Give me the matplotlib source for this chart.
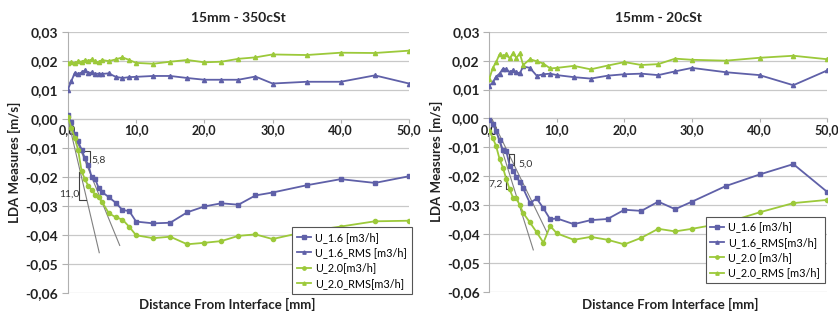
import numpy as np
import matplotlib
matplotlib.use("Agg")
import matplotlib.pyplot as plt
from matplotlib.ticker import FuncFormatter

plt.rcParams['font.family'] = ['Lato', 'DejaVu Sans']

BLUE = '#5f60a8'
GREEN = '#9cc93a'

# common distance grid [mm]
x = [0, 0.5, 1, 1.5, 2, 2.5, 3, 3.5, 4, 4.5, 5, 6, 7, 8, 9, 10,
     12.5, 15, 17.5, 20, 22.5, 25, 27.5, 30, 35, 40, 45, 50]

# 15mm - 350cSt
l_u16 = [0.0015, -0.0012, -0.005, -0.0077, -0.0105, -0.0135, -0.0158, -0.0201, -0.0206, -0.0237,
         -0.0251, -0.0269, -0.0288, -0.0313, -0.0317, -0.0353, -0.0359, -0.0357, -0.0321, -0.0301,
         -0.029, -0.0295, -0.0263, -0.0253, -0.0228, -0.0207, -0.022, -0.0197]
l_u16_rms = [0.0101, 0.013, 0.0158, 0.0155, 0.016, 0.0167, 0.0158, 0.016, 0.0155, 0.0156,
             0.0155, 0.0157, 0.0145, 0.0141, 0.0144, 0.0145, 0.0148, 0.0148, 0.0141, 0.0135,
             0.0135, 0.0135, 0.0146, 0.0122, 0.0128, 0.0128, 0.015, 0.0122]
l_u20 = [0.0007, -0.003, -0.0065, -0.0106, -0.0178, -0.0208, -0.023, -0.0245, -0.026, -0.027,
         -0.0285, -0.0324, -0.0338, -0.0346, -0.0371, -0.040, -0.041, -0.0405, -0.0431, -0.0426,
         -0.042, -0.0402, -0.0397, -0.0413, -0.0387, -0.037, -0.0352, -0.035]
l_u20_rms = [0.0192, 0.0195, 0.0193, 0.0198, 0.0197, 0.0202, 0.0200, 0.0205, 0.0198, 0.0195,
             0.0203, 0.0199, 0.0205, 0.0212, 0.0203, 0.0193, 0.019, 0.0197, 0.0203, 0.0195,
             0.0197, 0.0207, 0.0212, 0.0222, 0.022, 0.0228, 0.0227, 0.0235]

# 15mm - 20cSt
r_u16 = [-0.0004, -0.002, -0.0044, -0.0075, -0.011, -0.0114, -0.0163, -0.0183, -0.0201, -0.0221,
         -0.0242, -0.0293, -0.0277, -0.0311, -0.0349, -0.0346, -0.0366, -0.0352, -0.0348, -0.0316,
         -0.032, -0.0288, -0.0314, -0.0288, -0.0234, -0.0194, -0.0158, -0.0254]
r_u16_rms = [0.0113, 0.0125, 0.0145, 0.0155, 0.0172, 0.017, 0.016, 0.0167, 0.016, 0.0156,
             0.018, 0.0175, 0.0148, 0.0153, 0.0155, 0.015, 0.0143, 0.0138, 0.0148, 0.0153,
             0.0155, 0.015, 0.0163, 0.0175, 0.016, 0.015, 0.0115, 0.0166]
r_u20 = [-0.0044, -0.0067, -0.0096, -0.014, -0.017, -0.021, -0.0245, -0.0275, -0.0277, -0.030,
         -0.0327, -0.036, -0.0394, -0.043, -0.0372, -0.0398, -0.042, -0.041, -0.042, -0.0436,
         -0.0413, -0.0382, -0.0391, -0.0382, -0.0361, -0.0325, -0.0293, -0.0282]
r_u20_rms = [0.0138, 0.0175, 0.0195, 0.0222, 0.0215, 0.0222, 0.0208, 0.0225, 0.021, 0.0225,
             0.0185, 0.0205, 0.0198, 0.019, 0.0173, 0.0175, 0.0182, 0.017, 0.0183, 0.0195,
             0.0185, 0.0188, 0.0207, 0.0203, 0.02, 0.021, 0.0217, 0.0205]

titles = ['15mm - 350cSt', '15mm - 20cSt']
labels_l = ['U_1.6 [m3/h]', 'U_1.6_RMS [m3/h]', 'U_2.0[m3/h]', 'U_2.0_RMS[m3/h]']
labels_r = ['U_1.6 [m3/h]', 'U_1.6_RMS[m3/h]', 'U_2.0 [m3/h]', 'U_2.0_RMS [m3/h]']

# tangent lines and slope marks (x list, y list)
l_tang = [([0, 4.6], [0, -0.046]), ([0, 7.6], [0, -0.0435])]
l_marks = [([2.1, 3.2, 3.2], [-0.0109, -0.0109, -0.0147]),
           ([1.7, 1.7, 2.7], [-0.0181, -0.028, -0.028])]
l_text = [(3.4, -0.0143, '5,8'), (-1.3, -0.0258, '11,0')]
r_tang = [([0.4, 6.5], [0, -0.0455]), ([0.3, 8.6], [0, -0.0398])]
r_marks = [([2.95, 3.7, 3.7, 2.95, 2.95], [-0.0123, -0.0123, -0.0161, -0.0161, -0.0123]),
           ([2.5, 2.5, 3.1], [-0.0198, -0.0244, -0.0244])]
r_text = [(4.3, -0.0158, '5,0'), (-0.2, -0.0226, '7,2')]

fig = plt.figure(figsize=(8.38, 3.21), dpi=100)
ax1 = fig.add_axes([0.081, 0.086, 0.407, 0.815])
ax2 = fig.add_axes([0.584, 0.091, 0.403, 0.810])

comma = FuncFormatter(lambda v, p: ('%.2f' % v).replace('.', ','))
comma1 = FuncFormatter(lambda v, p: ('%.1f' % v).replace('.', ','))

panels = [(ax1, l_u16, l_u16_rms, l_u20, l_u20_rms, labels_l, l_tang, l_marks, l_text, (0.498, 0.310)),
          (ax2, r_u16, r_u16_rms, r_u20, r_u20_rms, labels_r, r_tang, r_marks, r_text, (0.991, 0.342))]

for i, (ax, u16, u16r, u20, u20r, labs, tang, marks, txt, lpos) in enumerate(panels):
    for tx, ty in tang:
        ax.plot(tx, ty, color='#808080', lw=0.8, zorder=2)
    for mx, my in marks:
        ax.plot(mx, my, color='#404040', lw=0.8, zorder=2)
    for tx, ty, s in txt:
        ax.text(tx, ty, s, fontsize=7.5, color='#333333', va='center', ha='left')
    h1, = ax.plot(x, u16, color=BLUE, marker='s', ms=3, lw=1.3, label=labs[0], zorder=3)
    h2, = ax.plot(x, u16r, color=BLUE, marker='^', ms=3, lw=1.3, label=labs[1], zorder=3)
    h3, = ax.plot(x, u20, color=GREEN, marker='o', ms=3, lw=1.3, label=labs[2], zorder=3)
    h4, = ax.plot(x, u20r, color=GREEN, marker='^', ms=3, lw=1.3, label=labs[3], zorder=3)

    ax.set_xlim(0, 50)
    ax.set_ylim(-0.06, 0.03)
    ax.set_yticks(np.arange(-0.06, 0.031, 0.01))
    ax.set_xticks([0, 10, 20, 30, 40, 50])
    ax.yaxis.set_major_formatter(comma)
    ax.xaxis.set_major_formatter(comma1)
    ax.grid(axis='y', color='#c8c8c8', lw=0.9)
    ax.set_axisbelow(True)
    for s in ['top', 'right']:
        ax.spines[s].set_visible(False)
    ax.spines['bottom'].set_position(('data', 0))
    ax.spines['bottom'].set_color('#c8c8c8')
    ax.spines['left'].set_color('#b0b0b0')
    ax.tick_params(axis='y', length=4, color='#b0b0b0', labelsize=10, labelcolor='#222222', pad=3)
    ax.tick_params(axis='x', length=3, color='#b0b0b0', labelsize=9, labelcolor='#222222', pad=1)
    for t in ax.get_yticklabels() + ax.get_xticklabels():
        t.set_fontweight('bold')

    ax.set_title(titles[i], fontsize=10, fontweight='bold', pad=7, color='#222222')
    ax.set_ylabel('LDA Measures [m/s]', fontsize=9.5, fontweight='bold', color='#222222', labelpad=3)

    leg = fig.legend(handles=[h1, h2, h3, h4], loc='upper right', bbox_to_anchor=lpos,
                     bbox_transform=fig.transFigure, fontsize=7.8, frameon=True, fancybox=False,
                     handlelength=1.3, handletextpad=0.35, borderpad=0.45, labelspacing=0.4,
                     markerscale=0.8, framealpha=1)
    leg.get_frame().set_edgecolor('#555555')
    leg.get_frame().set_linewidth(0.8)

fig.text(0.271, 0.053, 'Distance From Interface [mm]', fontsize=9.5, fontweight='bold',
         ha='center', va='center', color='#222222')
fig.text(0.8, 0.053, 'Distance From Interface [mm]', fontsize=9.5, fontweight='bold',
         ha='center', va='center', color='#222222')

fig.savefig('out.png', dpi=100)
